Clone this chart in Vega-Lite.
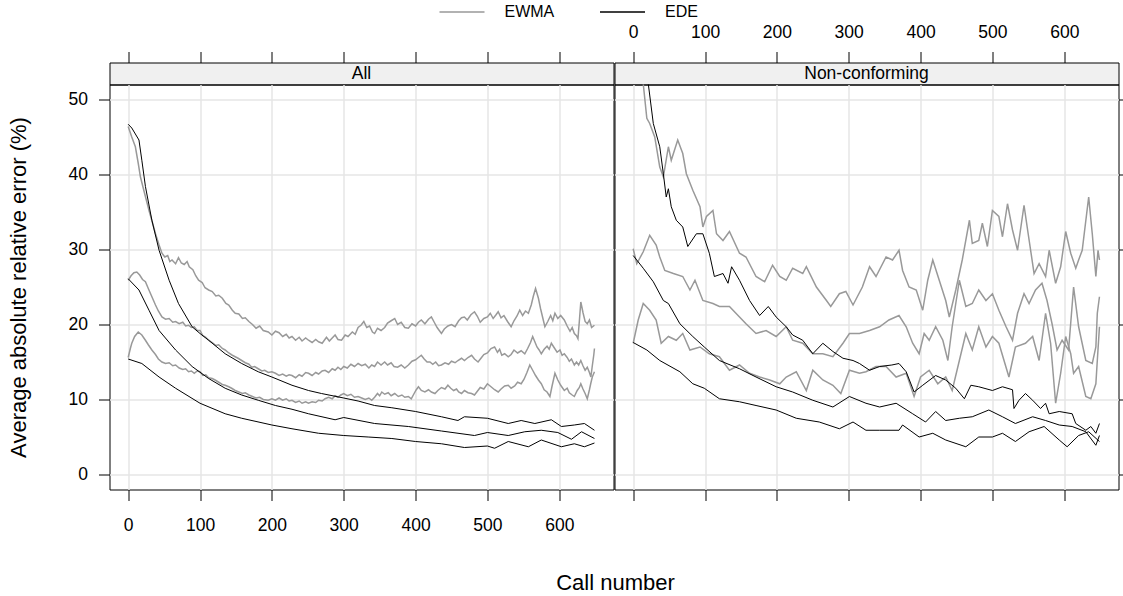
{
  "$schema": "https://vega.github.io/schema/vega-lite/v6.json",
  "padding": {"left": 6.5, "top": -12.5, "right": 0, "bottom": 0},
  "background": "white",
  "datasets": {
    "A_EWMA": [
      {"s":1,"x":0,"y":46.4},{"s":1,"x":5,"y":45.0},{"s":1,"x":10,"y":43.7},{"s":1,"x":14,"y":41.5},{"s":1,"x":17,"y":39.7},{"s":1,"x":22,"y":37.8},{"s":1,"x":29,"y":35.2},{"s":1,"x":34,"y":33.5},{"s":1,"x":38,"y":32.1},{"s":1,"x":43,"y":30.6},{"s":1,"x":47,"y":29.5},{"s":1,"x":51,"y":29.0},{"s":1,"x":55,"y":29.2},{"s":1,"x":58,"y":28.4},{"s":1,"x":61,"y":28.6},{"s":1,"x":66,"y":28.1},{"s":1,"x":70,"y":28.9},{"s":1,"x":74,"y":28.2},{"s":1,"x":78,"y":28.0},{"s":1,"x":82,"y":28.4},{"s":1,"x":85,"y":27.7},{"s":1,"x":90,"y":27.3},{"s":1,"x":94,"y":26.5},{"s":1,"x":98,"y":25.9},{"s":1,"x":103,"y":25.6},{"s":1,"x":107,"y":24.9},{"s":1,"x":112,"y":24.6},{"s":1,"x":117,"y":24.4},{"s":1,"x":122,"y":23.8},{"s":1,"x":126,"y":23.9},{"s":1,"x":131,"y":23.5},{"s":1,"x":136,"y":22.8},{"s":1,"x":140,"y":22.6},{"s":1,"x":145,"y":21.9},{"s":1,"x":149,"y":21.5},{"s":1,"x":154,"y":21.4},{"s":1,"x":159,"y":20.8},{"s":1,"x":163,"y":20.9},{"s":1,"x":168,"y":20.4},{"s":1,"x":173,"y":20.0},{"s":1,"x":178,"y":19.5},{"s":1,"x":183,"y":19.8},{"s":1,"x":188,"y":19.2},{"s":1,"x":195,"y":19.0},{"s":1,"x":200,"y":18.6},{"s":1,"x":205,"y":19.1},{"s":1,"x":210,"y":18.9},{"s":1,"x":215,"y":18.4},{"s":1,"x":220,"y":18.7},{"s":1,"x":224,"y":18.2},{"s":1,"x":228,"y":18.4},{"s":1,"x":233,"y":17.9},{"s":1,"x":238,"y":18.3},{"s":1,"x":242,"y":17.8},{"s":1,"x":247,"y":18.2},{"s":1,"x":251,"y":17.9},{"s":1,"x":256,"y":17.6},{"s":1,"x":261,"y":18.0},{"s":1,"x":265,"y":17.7},{"s":1,"x":270,"y":17.5},{"s":1,"x":276,"y":18.3},{"s":1,"x":280,"y":17.8},{"s":1,"x":284,"y":18.2},{"s":1,"x":288,"y":18.6},{"s":1,"x":292,"y":18.0},{"s":1,"x":297,"y":17.9},{"s":1,"x":302,"y":18.6},{"s":1,"x":306,"y":18.4},{"s":1,"x":312,"y":19.0},{"s":1,"x":316,"y":18.7},{"s":1,"x":320,"y":19.6},{"s":1,"x":324,"y":19.9},{"s":1,"x":328,"y":20.4},{"s":1,"x":332,"y":19.6},{"s":1,"x":336,"y":19.8},{"s":1,"x":340,"y":19.0},{"s":1,"x":343,"y":18.8},{"s":1,"x":347,"y":19.5},{"s":1,"x":352,"y":19.2},{"s":1,"x":357,"y":19.6},{"s":1,"x":361,"y":20.2},{"s":1,"x":366,"y":20.5},{"s":1,"x":371,"y":20.8},{"s":1,"x":375,"y":20.0},{"s":1,"x":380,"y":20.3},{"s":1,"x":385,"y":19.6},{"s":1,"x":390,"y":19.5},{"s":1,"x":395,"y":20.1},{"s":1,"x":400,"y":19.8},{"s":1,"x":404,"y":20.3},{"s":1,"x":408,"y":20.6},{"s":1,"x":413,"y":20.1},{"s":1,"x":418,"y":20.7},{"s":1,"x":422,"y":21.0},{"s":1,"x":426,"y":20.3},{"s":1,"x":430,"y":19.6},{"s":1,"x":433,"y":19.2},{"s":1,"x":436,"y":18.8},{"s":1,"x":440,"y":19.4},{"s":1,"x":445,"y":19.8},{"s":1,"x":450,"y":20.0},{"s":1,"x":455,"y":19.7},{"s":1,"x":460,"y":20.5},{"s":1,"x":464,"y":20.9},{"s":1,"x":468,"y":21.0},{"s":1,"x":472,"y":20.6},{"s":1,"x":477,"y":21.3},{"s":1,"x":482,"y":21.7},{"s":1,"x":486,"y":21.1},{"s":1,"x":490,"y":20.3},{"s":1,"x":495,"y":20.8},{"s":1,"x":500,"y":21.0},{"s":1,"x":504,"y":21.5},{"s":1,"x":508,"y":20.8},{"s":1,"x":512,"y":21.3},{"s":1,"x":515,"y":21.7},{"s":1,"x":519,"y":20.9},{"s":1,"x":523,"y":21.2},{"s":1,"x":528,"y":20.4},{"s":1,"x":533,"y":19.7},{"s":1,"x":537,"y":20.5},{"s":1,"x":541,"y":21.1},{"s":1,"x":545,"y":21.9},{"s":1,"x":549,"y":21.2},{"s":1,"x":553,"y":21.8},{"s":1,"x":557,"y":21.5},{"s":1,"x":561,"y":22.6},{"s":1,"x":564,"y":23.8},{"s":1,"x":567,"y":24.8},{"s":1,"x":571,"y":23.5},{"s":1,"x":574,"y":22.1},{"s":1,"x":577,"y":20.9},{"s":1,"x":580,"y":19.7},{"s":1,"x":584,"y":20.4},{"s":1,"x":588,"y":21.2},{"s":1,"x":591,"y":20.5},{"s":1,"x":594,"y":21.5},{"s":1,"x":598,"y":20.8},{"s":1,"x":602,"y":21.2},{"s":1,"x":607,"y":20.6},{"s":1,"x":611,"y":19.8},{"s":1,"x":615,"y":19.1},{"s":1,"x":618,"y":19.6},{"s":1,"x":621,"y":18.8},{"s":1,"x":624,"y":18.5},{"s":1,"x":626,"y":18.1},{"s":1,"x":628,"y":20.5},{"s":1,"x":630,"y":23.0},{"s":1,"x":633,"y":21.6},{"s":1,"x":636,"y":20.4},{"s":1,"x":639,"y":20.1},{"s":1,"x":642,"y":20.6},{"s":1,"x":645,"y":19.6},{"s":1,"x":649,"y":19.9},
      {"s":2,"x":0,"y":25.9},{"s":2,"x":4,"y":26.5},{"s":2,"x":8,"y":26.9},{"s":2,"x":12,"y":27.0},{"s":2,"x":16,"y":26.6},{"s":2,"x":20,"y":26.0},{"s":2,"x":24,"y":25.7},{"s":2,"x":28,"y":24.8},{"s":2,"x":33,"y":23.7},{"s":2,"x":38,"y":22.6},{"s":2,"x":42,"y":21.8},{"s":2,"x":47,"y":21.0},{"s":2,"x":52,"y":20.7},{"s":2,"x":57,"y":20.8},{"s":2,"x":62,"y":20.3},{"s":2,"x":66,"y":20.4},{"s":2,"x":71,"y":20.1},{"s":2,"x":76,"y":20.3},{"s":2,"x":80,"y":19.8},{"s":2,"x":84,"y":19.9},{"s":2,"x":88,"y":19.6},{"s":2,"x":92,"y":19.7},{"s":2,"x":96,"y":19.2},{"s":2,"x":100,"y":19.2},{"s":2,"x":104,"y":18.5},{"s":2,"x":108,"y":18.3},{"s":2,"x":112,"y":17.9},{"s":2,"x":117,"y":17.6},{"s":2,"x":122,"y":17.2},{"s":2,"x":126,"y":17.3},{"s":2,"x":131,"y":16.8},{"s":2,"x":135,"y":16.6},{"s":2,"x":140,"y":16.2},{"s":2,"x":145,"y":15.9},{"s":2,"x":149,"y":15.7},{"s":2,"x":153,"y":15.5},{"s":2,"x":158,"y":15.2},{"s":2,"x":163,"y":14.9},{"s":2,"x":168,"y":14.7},{"s":2,"x":172,"y":14.3},{"s":2,"x":176,"y":14.4},{"s":2,"x":181,"y":14.1},{"s":2,"x":186,"y":13.8},{"s":2,"x":190,"y":13.9},{"s":2,"x":195,"y":13.6},{"s":2,"x":200,"y":13.7},{"s":2,"x":205,"y":13.5},{"s":2,"x":210,"y":13.2},{"s":2,"x":215,"y":13.4},{"s":2,"x":220,"y":13.1},{"s":2,"x":224,"y":13.3},{"s":2,"x":228,"y":13.2},{"s":2,"x":233,"y":12.9},{"s":2,"x":238,"y":13.3},{"s":2,"x":242,"y":13.1},{"s":2,"x":247,"y":13.6},{"s":2,"x":251,"y":13.5},{"s":2,"x":256,"y":13.2},{"s":2,"x":261,"y":13.6},{"s":2,"x":265,"y":13.4},{"s":2,"x":270,"y":13.8},{"s":2,"x":274,"y":13.9},{"s":2,"x":279,"y":13.6},{"s":2,"x":284,"y":14.1},{"s":2,"x":288,"y":13.9},{"s":2,"x":292,"y":14.3},{"s":2,"x":296,"y":14.0},{"s":2,"x":300,"y":14.4},{"s":2,"x":305,"y":14.2},{"s":2,"x":310,"y":14.7},{"s":2,"x":315,"y":14.4},{"s":2,"x":320,"y":14.8},{"s":2,"x":325,"y":14.5},{"s":2,"x":330,"y":14.7},{"s":2,"x":335,"y":14.2},{"s":2,"x":339,"y":14.6},{"s":2,"x":343,"y":14.4},{"s":2,"x":347,"y":15.0},{"s":2,"x":352,"y":14.6},{"s":2,"x":357,"y":15.0},{"s":2,"x":361,"y":14.6},{"s":2,"x":366,"y":14.9},{"s":2,"x":370,"y":14.4},{"s":2,"x":375,"y":14.3},{"s":2,"x":380,"y":14.6},{"s":2,"x":385,"y":14.2},{"s":2,"x":390,"y":14.6},{"s":2,"x":395,"y":15.1},{"s":2,"x":400,"y":15.3},{"s":2,"x":404,"y":15.6},{"s":2,"x":408,"y":15.9},{"s":2,"x":412,"y":15.4},{"s":2,"x":416,"y":15.0},{"s":2,"x":420,"y":15.0},{"s":2,"x":424,"y":14.7},{"s":2,"x":428,"y":15.0},{"s":2,"x":432,"y":14.5},{"s":2,"x":436,"y":14.6},{"s":2,"x":441,"y":14.9},{"s":2,"x":446,"y":14.7},{"s":2,"x":450,"y":15.1},{"s":2,"x":455,"y":14.9},{"s":2,"x":459,"y":15.2},{"s":2,"x":464,"y":15.5},{"s":2,"x":468,"y":15.2},{"s":2,"x":473,"y":15.6},{"s":2,"x":478,"y":15.9},{"s":2,"x":482,"y":15.4},{"s":2,"x":487,"y":15.0},{"s":2,"x":491,"y":15.5},{"s":2,"x":495,"y":16.0},{"s":2,"x":500,"y":16.2},{"s":2,"x":505,"y":16.8},{"s":2,"x":510,"y":17.0},{"s":2,"x":514,"y":16.3},{"s":2,"x":517,"y":16.7},{"s":2,"x":520,"y":15.9},{"s":2,"x":524,"y":16.1},{"s":2,"x":529,"y":15.7},{"s":2,"x":533,"y":16.0},{"s":2,"x":537,"y":16.6},{"s":2,"x":542,"y":16.2},{"s":2,"x":547,"y":16.5},{"s":2,"x":552,"y":16.1},{"s":2,"x":556,"y":16.8},{"s":2,"x":560,"y":17.6},{"s":2,"x":563,"y":18.4},{"s":2,"x":566,"y":17.7},{"s":2,"x":569,"y":17.0},{"s":2,"x":572,"y":16.6},{"s":2,"x":575,"y":16.1},{"s":2,"x":579,"y":16.7},{"s":2,"x":583,"y":17.1},{"s":2,"x":586,"y":16.7},{"s":2,"x":589,"y":17.5},{"s":2,"x":593,"y":16.9},{"s":2,"x":597,"y":16.3},{"s":2,"x":601,"y":16.6},{"s":2,"x":604,"y":15.9},{"s":2,"x":607,"y":16.1},{"s":2,"x":611,"y":15.6},{"s":2,"x":614,"y":15.1},{"s":2,"x":617,"y":15.4},{"s":2,"x":621,"y":14.6},{"s":2,"x":624,"y":15.0},{"s":2,"x":627,"y":14.6},{"s":2,"x":630,"y":15.2},{"s":2,"x":633,"y":14.5},{"s":2,"x":636,"y":13.9},{"s":2,"x":639,"y":14.3},{"s":2,"x":642,"y":13.6},{"s":2,"x":644,"y":13.0},{"s":2,"x":646,"y":14.5},{"s":2,"x":648,"y":15.9},{"s":2,"x":649,"y":16.8},
      {"s":3,"x":0,"y":15.6},{"s":3,"x":3,"y":16.8},{"s":3,"x":5,"y":17.5},{"s":3,"x":9,"y":18.4},{"s":3,"x":14,"y":19.0},{"s":3,"x":19,"y":18.6},{"s":3,"x":24,"y":17.9},{"s":3,"x":28,"y":17.3},{"s":3,"x":33,"y":16.6},{"s":3,"x":38,"y":16.0},{"s":3,"x":42,"y":15.4},{"s":3,"x":47,"y":15.0},{"s":3,"x":52,"y":14.8},{"s":3,"x":57,"y":14.9},{"s":3,"x":62,"y":14.5},{"s":3,"x":66,"y":14.6},{"s":3,"x":71,"y":14.2},{"s":3,"x":76,"y":14.0},{"s":3,"x":80,"y":14.1},{"s":3,"x":84,"y":13.7},{"s":3,"x":88,"y":13.8},{"s":3,"x":92,"y":13.5},{"s":3,"x":96,"y":13.8},{"s":3,"x":100,"y":13.7},{"s":3,"x":104,"y":13.2},{"s":3,"x":108,"y":13.3},{"s":3,"x":112,"y":12.9},{"s":3,"x":117,"y":12.8},{"s":3,"x":121,"y":12.6},{"s":3,"x":126,"y":12.3},{"s":3,"x":131,"y":12.0},{"s":3,"x":135,"y":11.9},{"s":3,"x":140,"y":11.7},{"s":3,"x":144,"y":11.5},{"s":3,"x":149,"y":11.2},{"s":3,"x":154,"y":11.0},{"s":3,"x":159,"y":10.8},{"s":3,"x":163,"y":10.9},{"s":3,"x":168,"y":10.6},{"s":3,"x":173,"y":10.4},{"s":3,"x":178,"y":10.2},{"s":3,"x":183,"y":10.3},{"s":3,"x":188,"y":10.0},{"s":3,"x":195,"y":9.9},{"s":3,"x":200,"y":10.1},{"s":3,"x":205,"y":9.9},{"s":3,"x":210,"y":10.2},{"s":3,"x":215,"y":9.9},{"s":3,"x":220,"y":10.1},{"s":3,"x":224,"y":9.8},{"s":3,"x":228,"y":9.9},{"s":3,"x":233,"y":9.6},{"s":3,"x":238,"y":9.8},{"s":3,"x":242,"y":9.5},{"s":3,"x":247,"y":9.7},{"s":3,"x":251,"y":9.5},{"s":3,"x":256,"y":9.7},{"s":3,"x":261,"y":9.6},{"s":3,"x":265,"y":9.9},{"s":3,"x":270,"y":9.8},{"s":3,"x":274,"y":10.1},{"s":3,"x":279,"y":10.3},{"s":3,"x":284,"y":10.1},{"s":3,"x":288,"y":10.5},{"s":3,"x":292,"y":10.3},{"s":3,"x":296,"y":10.6},{"s":3,"x":300,"y":10.8},{"s":3,"x":305,"y":10.5},{"s":3,"x":310,"y":10.7},{"s":3,"x":315,"y":10.3},{"s":3,"x":320,"y":10.4},{"s":3,"x":325,"y":10.2},{"s":3,"x":330,"y":10.0},{"s":3,"x":335,"y":10.2},{"s":3,"x":339,"y":9.9},{"s":3,"x":343,"y":10.3},{"s":3,"x":347,"y":10.8},{"s":3,"x":350,"y":10.5},{"s":3,"x":353,"y":11.0},{"s":3,"x":357,"y":10.7},{"s":3,"x":362,"y":10.9},{"s":3,"x":366,"y":10.5},{"s":3,"x":371,"y":10.8},{"s":3,"x":376,"y":10.4},{"s":3,"x":381,"y":10.6},{"s":3,"x":385,"y":10.3},{"s":3,"x":390,"y":10.4},{"s":3,"x":394,"y":10.1},{"s":3,"x":398,"y":10.8},{"s":3,"x":401,"y":11.3},{"s":3,"x":404,"y":11.7},{"s":3,"x":408,"y":11.2},{"s":3,"x":413,"y":11.0},{"s":3,"x":418,"y":11.3},{"s":3,"x":422,"y":11.0},{"s":3,"x":427,"y":10.8},{"s":3,"x":431,"y":11.2},{"s":3,"x":436,"y":11.6},{"s":3,"x":441,"y":11.4},{"s":3,"x":445,"y":11.9},{"s":3,"x":449,"y":11.5},{"s":3,"x":453,"y":11.2},{"s":3,"x":457,"y":11.4},{"s":3,"x":460,"y":11.0},{"s":3,"x":464,"y":10.8},{"s":3,"x":468,"y":11.2},{"s":3,"x":473,"y":10.9},{"s":3,"x":478,"y":10.8},{"s":3,"x":482,"y":10.6},{"s":3,"x":486,"y":11.1},{"s":3,"x":490,"y":11.6},{"s":3,"x":495,"y":11.4},{"s":3,"x":500,"y":12.1},{"s":3,"x":505,"y":11.7},{"s":3,"x":510,"y":11.3},{"s":3,"x":515,"y":11.0},{"s":3,"x":519,"y":11.4},{"s":3,"x":524,"y":11.8},{"s":3,"x":529,"y":11.9},{"s":3,"x":533,"y":11.5},{"s":3,"x":538,"y":11.8},{"s":3,"x":542,"y":12.3},{"s":3,"x":547,"y":12.1},{"s":3,"x":551,"y":12.7},{"s":3,"x":555,"y":13.6},{"s":3,"x":559,"y":14.6},{"s":3,"x":563,"y":13.9},{"s":3,"x":567,"y":13.2},{"s":3,"x":571,"y":12.6},{"s":3,"x":575,"y":12.1},{"s":3,"x":579,"y":11.3},{"s":3,"x":583,"y":11.0},{"s":3,"x":587,"y":10.4},{"s":3,"x":590,"y":11.8},{"s":3,"x":594,"y":13.5},{"s":3,"x":598,"y":12.6},{"s":3,"x":602,"y":11.9},{"s":3,"x":607,"y":11.2},{"s":3,"x":611,"y":11.5},{"s":3,"x":614,"y":10.9},{"s":3,"x":618,"y":10.6},{"s":3,"x":621,"y":10.4},{"s":3,"x":625,"y":11.2},{"s":3,"x":628,"y":11.6},{"s":3,"x":630,"y":12.1},{"s":3,"x":633,"y":11.4},{"s":3,"x":636,"y":10.8},{"s":3,"x":639,"y":10.1},{"s":3,"x":642,"y":11.3},{"s":3,"x":644,"y":12.2},{"s":3,"x":646,"y":13.0},{"s":3,"x":649,"y":13.7}
    ],
    "A_EDE": [
      {"s":1,"x":0,"y":46.7},{"s":1,"x":5,"y":46.2},{"s":1,"x":15,"y":44.6},{"s":1,"x":19,"y":41.9},{"s":1,"x":24,"y":38.4},{"s":1,"x":33,"y":33.9},{"s":1,"x":43,"y":29.9},{"s":1,"x":57,"y":25.9},{"s":1,"x":70,"y":22.8},{"s":1,"x":89,"y":19.7},{"s":1,"x":100,"y":18.8},{"s":1,"x":112,"y":17.9},{"s":1,"x":135,"y":16.1},{"s":1,"x":158,"y":14.8},{"s":1,"x":181,"y":13.7},{"s":1,"x":200,"y":13.0},{"s":1,"x":228,"y":11.9},{"s":1,"x":251,"y":11.2},{"s":1,"x":269,"y":10.8},{"s":1,"x":300,"y":10.2},{"s":1,"x":320,"y":9.8},{"s":1,"x":343,"y":9.2},{"s":1,"x":367,"y":8.9},{"s":1,"x":400,"y":8.4},{"s":1,"x":436,"y":7.7},{"s":1,"x":459,"y":7.2},{"s":1,"x":468,"y":7.7},{"s":1,"x":500,"y":7.5},{"s":1,"x":529,"y":6.8},{"s":1,"x":547,"y":7.2},{"s":1,"x":566,"y":6.8},{"s":1,"x":589,"y":7.3},{"s":1,"x":603,"y":6.4},{"s":1,"x":621,"y":6.6},{"s":1,"x":635,"y":6.8},{"s":1,"x":649,"y":5.9},
      {"s":2,"x":0,"y":26.1},{"s":2,"x":15,"y":24.6},{"s":2,"x":29,"y":21.9},{"s":2,"x":43,"y":19.2},{"s":2,"x":66,"y":16.6},{"s":2,"x":89,"y":14.4},{"s":2,"x":112,"y":12.8},{"s":2,"x":135,"y":11.5},{"s":2,"x":158,"y":10.6},{"s":2,"x":181,"y":9.9},{"s":2,"x":205,"y":9.2},{"s":2,"x":228,"y":8.7},{"s":2,"x":251,"y":8.1},{"s":2,"x":288,"y":7.3},{"s":2,"x":300,"y":7.6},{"s":2,"x":343,"y":6.8},{"s":2,"x":390,"y":6.4},{"s":2,"x":436,"y":5.8},{"s":2,"x":482,"y":5.2},{"s":2,"x":500,"y":5.6},{"s":2,"x":529,"y":5.2},{"s":2,"x":552,"y":5.7},{"s":2,"x":575,"y":5.9},{"s":2,"x":598,"y":5.6},{"s":2,"x":617,"y":4.7},{"s":2,"x":631,"y":5.7},{"s":2,"x":649,"y":4.8},
      {"s":3,"x":0,"y":15.4},{"s":3,"x":19,"y":14.8},{"s":3,"x":43,"y":13.0},{"s":3,"x":66,"y":11.5},{"s":3,"x":100,"y":9.5},{"s":3,"x":135,"y":8.1},{"s":3,"x":158,"y":7.5},{"s":3,"x":200,"y":6.6},{"s":3,"x":228,"y":6.1},{"s":3,"x":265,"y":5.5},{"s":3,"x":300,"y":5.2},{"s":3,"x":334,"y":5.0},{"s":3,"x":367,"y":4.8},{"s":3,"x":400,"y":4.4},{"s":3,"x":436,"y":4.1},{"s":3,"x":468,"y":3.6},{"s":3,"x":500,"y":3.8},{"s":3,"x":510,"y":3.5},{"s":3,"x":529,"y":4.4},{"s":3,"x":557,"y":3.7},{"s":3,"x":575,"y":4.6},{"s":3,"x":603,"y":3.7},{"s":3,"x":621,"y":4.1},{"s":3,"x":635,"y":3.7},{"s":3,"x":649,"y":4.2}
    ],
    "N_EWMA": [
      {"s":1,"x":0,"y":62},{"s":1,"x":8,"y":56},{"s":1,"x":14,"y":52.1},{"s":1,"x":19,"y":47.5},{"s":1,"x":23,"y":46.8},{"s":1,"x":30,"y":45.0},{"s":1,"x":37,"y":41.0},{"s":1,"x":42,"y":39.7},{"s":1,"x":49,"y":43.7},{"s":1,"x":53,"y":41.9},{"s":1,"x":62,"y":44.6},{"s":1,"x":69,"y":42.8},{"s":1,"x":74,"y":40.1},{"s":1,"x":83,"y":37.9},{"s":1,"x":93,"y":35.7},{"s":1,"x":97,"y":33.0},{"s":1,"x":102,"y":34.4},{"s":1,"x":111,"y":35.2},{"s":1,"x":116,"y":32.1},{"s":1,"x":125,"y":31.2},{"s":1,"x":134,"y":32.4},{"s":1,"x":148,"y":29.5},{"s":1,"x":157,"y":29.0},{"s":1,"x":171,"y":26.4},{"s":1,"x":183,"y":25.7},{"s":1,"x":194,"y":27.9},{"s":1,"x":204,"y":26.4},{"s":1,"x":213,"y":25.9},{"s":1,"x":222,"y":27.5},{"s":1,"x":236,"y":26.8},{"s":1,"x":241,"y":27.7},{"s":1,"x":255,"y":25.0},{"s":1,"x":269,"y":23.2},{"s":1,"x":275,"y":22.4},{"s":1,"x":287,"y":24.1},{"s":1,"x":296,"y":24.4},{"s":1,"x":306,"y":22.6},{"s":1,"x":319,"y":25.0},{"s":1,"x":329,"y":27.7},{"s":1,"x":338,"y":26.4},{"s":1,"x":352,"y":29.0},{"s":1,"x":361,"y":28.6},{"s":1,"x":370,"y":29.9},{"s":1,"x":375,"y":27.2},{"s":1,"x":384,"y":25.0},{"s":1,"x":394,"y":24.6},{"s":1,"x":403,"y":21.9},{"s":1,"x":410,"y":25.9},{"s":1,"x":417,"y":28.6},{"s":1,"x":426,"y":25.9},{"s":1,"x":435,"y":23.2},{"s":1,"x":440,"y":21.0},{"s":1,"x":449,"y":24.6},{"s":1,"x":458,"y":28.6},{"s":1,"x":468,"y":33.9},{"s":1,"x":472,"y":30.8},{"s":1,"x":481,"y":31.2},{"s":1,"x":486,"y":33.5},{"s":1,"x":493,"y":30.4},{"s":1,"x":500,"y":35.2},{"s":1,"x":509,"y":34.4},{"s":1,"x":514,"y":31.7},{"s":1,"x":521,"y":36.1},{"s":1,"x":528,"y":32.6},{"s":1,"x":535,"y":29.9},{"s":1,"x":544,"y":35.9},{"s":1,"x":549,"y":32.6},{"s":1,"x":558,"y":26.8},{"s":1,"x":565,"y":28.1},{"s":1,"x":574,"y":26.4},{"s":1,"x":579,"y":29.9},{"s":1,"x":588,"y":25.5},{"s":1,"x":595,"y":27.7},{"s":1,"x":602,"y":32.4},{"s":1,"x":609,"y":29.5},{"s":1,"x":616,"y":27.5},{"s":1,"x":620,"y":28.6},{"s":1,"x":625,"y":29.9},{"s":1,"x":634,"y":37.0},{"s":1,"x":639,"y":32.1},{"s":1,"x":644,"y":26.4},{"s":1,"x":647,"y":29.9},{"s":1,"x":649,"y":28.6},
      {"s":2,"x":0,"y":30.1},{"s":2,"x":5,"y":28.1},{"s":2,"x":14,"y":29.7},{"s":2,"x":23,"y":31.9},{"s":2,"x":32,"y":30.6},{"s":2,"x":37,"y":29.0},{"s":2,"x":44,"y":27.2},{"s":2,"x":56,"y":26.8},{"s":2,"x":69,"y":26.4},{"s":2,"x":79,"y":24.6},{"s":2,"x":86,"y":25.9},{"s":2,"x":97,"y":23.2},{"s":2,"x":111,"y":22.8},{"s":2,"x":120,"y":22.4},{"s":2,"x":134,"y":22.4},{"s":2,"x":148,"y":21.0},{"s":2,"x":157,"y":20.1},{"s":2,"x":171,"y":18.8},{"s":2,"x":185,"y":19.2},{"s":2,"x":199,"y":18.4},{"s":2,"x":213,"y":19.7},{"s":2,"x":222,"y":17.9},{"s":2,"x":236,"y":17.5},{"s":2,"x":250,"y":16.1},{"s":2,"x":264,"y":16.1},{"s":2,"x":278,"y":15.7},{"s":2,"x":292,"y":17.5},{"s":2,"x":301,"y":18.8},{"s":2,"x":315,"y":18.8},{"s":2,"x":329,"y":19.2},{"s":2,"x":343,"y":19.7},{"s":2,"x":356,"y":20.6},{"s":2,"x":370,"y":21.2},{"s":2,"x":380,"y":19.7},{"s":2,"x":389,"y":17.5},{"s":2,"x":398,"y":16.1},{"s":2,"x":405,"y":18.8},{"s":2,"x":412,"y":17.9},{"s":2,"x":421,"y":19.7},{"s":2,"x":431,"y":17.9},{"s":2,"x":438,"y":15.2},{"s":2,"x":444,"y":19.7},{"s":2,"x":454,"y":25.9},{"s":2,"x":463,"y":22.4},{"s":2,"x":472,"y":22.8},{"s":2,"x":481,"y":24.6},{"s":2,"x":491,"y":23.2},{"s":2,"x":500,"y":24.1},{"s":2,"x":509,"y":21.9},{"s":2,"x":519,"y":19.7},{"s":2,"x":528,"y":17.9},{"s":2,"x":535,"y":21.5},{"s":2,"x":544,"y":24.1},{"s":2,"x":551,"y":22.8},{"s":2,"x":560,"y":24.6},{"s":2,"x":569,"y":25.5},{"s":2,"x":576,"y":23.2},{"s":2,"x":583,"y":20.1},{"s":2,"x":590,"y":16.6},{"s":2,"x":597,"y":17.9},{"s":2,"x":606,"y":16.6},{"s":2,"x":613,"y":25.0},{"s":2,"x":620,"y":19.7},{"s":2,"x":630,"y":15.2},{"s":2,"x":639,"y":14.8},{"s":2,"x":644,"y":17.0},{"s":2,"x":646,"y":21.5},{"s":2,"x":649,"y":23.7},
      {"s":3,"x":0,"y":17.5},{"s":3,"x":7,"y":20.6},{"s":3,"x":14,"y":22.8},{"s":3,"x":23,"y":21.9},{"s":3,"x":32,"y":20.6},{"s":3,"x":39,"y":17.5},{"s":3,"x":49,"y":18.4},{"s":3,"x":60,"y":17.9},{"s":3,"x":69,"y":18.8},{"s":3,"x":79,"y":16.6},{"s":3,"x":93,"y":17.0},{"s":3,"x":106,"y":16.1},{"s":3,"x":120,"y":15.7},{"s":3,"x":134,"y":13.9},{"s":3,"x":148,"y":14.6},{"s":3,"x":162,"y":13.5},{"s":3,"x":176,"y":13.0},{"s":3,"x":190,"y":12.6},{"s":3,"x":204,"y":12.1},{"s":3,"x":213,"y":13.0},{"s":3,"x":227,"y":13.7},{"s":3,"x":241,"y":11.2},{"s":3,"x":250,"y":13.9},{"s":3,"x":264,"y":12.6},{"s":3,"x":278,"y":11.9},{"s":3,"x":289,"y":10.8},{"s":3,"x":301,"y":13.9},{"s":3,"x":315,"y":13.5},{"s":3,"x":324,"y":13.7},{"s":3,"x":338,"y":14.4},{"s":3,"x":352,"y":14.4},{"s":3,"x":366,"y":13.0},{"s":3,"x":380,"y":13.5},{"s":3,"x":391,"y":10.4},{"s":3,"x":400,"y":13.0},{"s":3,"x":412,"y":13.9},{"s":3,"x":424,"y":12.1},{"s":3,"x":435,"y":13.0},{"s":3,"x":444,"y":11.2},{"s":3,"x":454,"y":15.2},{"s":3,"x":463,"y":18.8},{"s":3,"x":472,"y":16.6},{"s":3,"x":481,"y":19.7},{"s":3,"x":491,"y":17.0},{"s":3,"x":500,"y":18.4},{"s":3,"x":509,"y":17.5},{"s":3,"x":523,"y":13.0},{"s":3,"x":532,"y":17.0},{"s":3,"x":546,"y":17.5},{"s":3,"x":556,"y":18.4},{"s":3,"x":565,"y":15.2},{"s":3,"x":574,"y":21.5},{"s":3,"x":581,"y":17.5},{"s":3,"x":588,"y":9.5},{"s":3,"x":595,"y":13.5},{"s":3,"x":602,"y":18.4},{"s":3,"x":609,"y":16.1},{"s":3,"x":613,"y":13.5},{"s":3,"x":620,"y":14.4},{"s":3,"x":630,"y":10.4},{"s":3,"x":637,"y":10.1},{"s":3,"x":644,"y":12.1},{"s":3,"x":646,"y":15.2},{"s":3,"x":649,"y":19.7}
    ],
    "N_EDE": [
      {"s":1,"x":0,"y":66},{"s":1,"x":10,"y":59},{"s":1,"x":21,"y":52.1},{"s":1,"x":28,"y":46.8},{"s":1,"x":37,"y":43.7},{"s":1,"x":42,"y":40.1},{"s":1,"x":46,"y":37.0},{"s":1,"x":49,"y":38.1},{"s":1,"x":53,"y":35.7},{"s":1,"x":60,"y":33.9},{"s":1,"x":69,"y":33.0},{"s":1,"x":76,"y":30.4},{"s":1,"x":88,"y":32.1},{"s":1,"x":97,"y":32.1},{"s":1,"x":106,"y":29.5},{"s":1,"x":113,"y":26.4},{"s":1,"x":125,"y":26.8},{"s":1,"x":132,"y":25.5},{"s":1,"x":137,"y":27.7},{"s":1,"x":148,"y":25.9},{"s":1,"x":162,"y":23.2},{"s":1,"x":176,"y":21.2},{"s":1,"x":188,"y":22.4},{"s":1,"x":199,"y":21.0},{"s":1,"x":213,"y":19.7},{"s":1,"x":222,"y":18.6},{"s":1,"x":236,"y":17.9},{"s":1,"x":250,"y":16.1},{"s":1,"x":264,"y":17.5},{"s":1,"x":278,"y":16.4},{"s":1,"x":292,"y":15.5},{"s":1,"x":306,"y":15.2},{"s":1,"x":315,"y":14.8},{"s":1,"x":329,"y":13.9},{"s":1,"x":343,"y":14.4},{"s":1,"x":360,"y":14.6},{"s":1,"x":370,"y":14.8},{"s":1,"x":380,"y":13.7},{"s":1,"x":391,"y":11.0},{"s":1,"x":403,"y":11.9},{"s":1,"x":421,"y":13.2},{"s":1,"x":435,"y":12.6},{"s":1,"x":449,"y":11.5},{"s":1,"x":461,"y":10.1},{"s":1,"x":470,"y":11.9},{"s":1,"x":481,"y":11.7},{"s":1,"x":500,"y":11.2},{"s":1,"x":514,"y":11.7},{"s":1,"x":528,"y":11.3},{"s":1,"x":530,"y":8.8},{"s":1,"x":537,"y":9.9},{"s":1,"x":546,"y":10.8},{"s":1,"x":556,"y":9.9},{"s":1,"x":567,"y":8.8},{"s":1,"x":574,"y":9.5},{"s":1,"x":579,"y":8.1},{"s":1,"x":593,"y":8.4},{"s":1,"x":611,"y":8.1},{"s":1,"x":616,"y":6.8},{"s":1,"x":630,"y":5.9},{"s":1,"x":637,"y":6.4},{"s":1,"x":644,"y":5.5},{"s":1,"x":649,"y":6.8},
      {"s":2,"x":0,"y":29.2},{"s":2,"x":14,"y":27.5},{"s":2,"x":28,"y":25.7},{"s":2,"x":42,"y":23.2},{"s":2,"x":49,"y":22.8},{"s":2,"x":65,"y":20.1},{"s":2,"x":83,"y":18.4},{"s":2,"x":99,"y":17.0},{"s":2,"x":120,"y":15.2},{"s":2,"x":148,"y":14.1},{"s":2,"x":171,"y":13.0},{"s":2,"x":199,"y":11.7},{"s":2,"x":222,"y":11.0},{"s":2,"x":250,"y":9.9},{"s":2,"x":278,"y":9.0},{"s":2,"x":301,"y":10.4},{"s":2,"x":324,"y":9.5},{"s":2,"x":343,"y":9.0},{"s":2,"x":366,"y":9.5},{"s":2,"x":389,"y":8.1},{"s":2,"x":407,"y":7.0},{"s":2,"x":421,"y":8.4},{"s":2,"x":435,"y":7.2},{"s":2,"x":454,"y":7.5},{"s":2,"x":472,"y":7.7},{"s":2,"x":495,"y":8.6},{"s":2,"x":514,"y":7.7},{"s":2,"x":532,"y":6.8},{"s":2,"x":556,"y":7.7},{"s":2,"x":574,"y":7.2},{"s":2,"x":593,"y":6.6},{"s":2,"x":611,"y":6.4},{"s":2,"x":630,"y":5.7},{"s":2,"x":644,"y":3.9},{"s":2,"x":649,"y":5.2},
      {"s":3,"x":0,"y":17.6},{"s":3,"x":19,"y":16.6},{"s":3,"x":37,"y":15.2},{"s":3,"x":65,"y":13.7},{"s":3,"x":83,"y":12.1},{"s":3,"x":99,"y":11.5},{"s":3,"x":120,"y":10.1},{"s":3,"x":148,"y":9.7},{"s":3,"x":171,"y":9.2},{"s":3,"x":199,"y":8.6},{"s":3,"x":227,"y":7.5},{"s":3,"x":259,"y":7.0},{"s":3,"x":287,"y":6.1},{"s":3,"x":306,"y":7.0},{"s":3,"x":324,"y":5.9},{"s":3,"x":343,"y":5.9},{"s":3,"x":370,"y":5.9},{"s":3,"x":375,"y":6.6},{"s":3,"x":398,"y":5.0},{"s":3,"x":417,"y":5.5},{"s":3,"x":435,"y":4.6},{"s":3,"x":463,"y":3.7},{"s":3,"x":481,"y":5.0},{"s":3,"x":500,"y":5.0},{"s":3,"x":514,"y":5.5},{"s":3,"x":532,"y":4.4},{"s":3,"x":551,"y":5.7},{"s":3,"x":572,"y":6.4},{"s":3,"x":593,"y":4.6},{"s":3,"x":604,"y":3.7},{"s":3,"x":620,"y":5.2},{"s":3,"x":634,"y":5.7},{"s":3,"x":649,"y":4.4}
    ]
  },
  "title": {"text": "Call number", "orient": "bottom", "anchor": "middle", "frame": "bounds", "fontSize": 22, "fontWeight": "normal", "font": "Liberation Sans", "color": "black", "offset": 38, "dx": 47},
  "spacing": -2.5,
  "hconcat": [
    {
      "bounds": "flush",
      "spacing": 0,
      "vconcat": [
        {
          "width": 504, "height": 22,
          "view": {"fill": "#f0f0f0", "stroke": "black", "strokeWidth": 1},
          "data": {"values": [{"t": "All"}]},
          "mark": {"type": "text", "fontSize": 17.5, "font": "Liberation Sans", "color": "black"},
          "encoding": {"text": {"field": "t", "type": "nominal"}}
        },
        {
          "width": 504, "height": 405,
          "resolve": {"axis": {"x": "independent"}},
          "layer": [
            {
              "data": {"name": "A_EWMA"},
              "mark": {"type": "line", "strokeWidth": 1.5, "clip": true},
              "encoding": {
                "x": {"field": "x", "type": "quantitative", "scale": {"domain": [-26, 675.5], "nice": false, "zero": false},
                      "axis": {"orient": "bottom", "values": [0,100,200,300,400,500,600], "grid": true, "title": null, "labelPadding": 16}},
                "y": {"field": "y", "type": "quantitative", "scale": {"domain": [-2, 52], "nice": false, "zero": false},
                      "axis": {"orient": "left", "values": [0,10,20,30,40,50], "grid": true, "title": "Average absolute relative error (%)", "labelPadding": 11, "titlePadding": 38}},
                "color": {"datum": "EWMA", "type": "nominal", "scale": {"domain": ["EWMA", "EDE"], "range": ["#999999", "#000000"]},
                          "legend": {"orient": "none", "direction": "horizontal", "legendX": 329, "legendY": -74.2, "title": null, "symbolType": "stroke", "symbolSize": 2025, "symbolStrokeWidth": 1.5, "labelFontSize": 16, "labelOffset": 19, "columnPadding": 42.5, "padding": 0, "labelColor": "black", "labelFont": "Liberation Sans"}},
                "detail": {"field": "s", "type": "nominal"}
              }
            },
            {
              "data": {"name": "A_EDE"},
              "mark": {"type": "line", "strokeWidth": 1, "clip": true},
              "encoding": {
                "x": {"field": "x", "type": "quantitative", "scale": {"domain": [-26, 675.5], "nice": false, "zero": false},
                      "axis": {"orient": "top", "values": [0,100,200,300,400,500,600], "grid": false, "labels": false, "title": null, "offset": 22}},
                "y": {"field": "y", "type": "quantitative",
                      "axis": {"orient": "left", "values": [0,10,20,30,40,50], "grid": true, "title": "Average absolute relative error (%)", "labelPadding": 11, "titlePadding": 38}},
                "color": {"datum": "EDE", "type": "nominal"},
                "detail": {"field": "s", "type": "nominal"}
              }
            }
          ]
        }
      ]
    },
    {
      "bounds": "flush",
      "spacing": 0,
      "vconcat": [
        {
          "width": 504, "height": 22,
          "view": {"fill": "#f0f0f0", "stroke": "black", "strokeWidth": 1},
          "data": {"values": [{"t": "Non-conforming"}]},
          "mark": {"type": "text", "fontSize": 17.5, "font": "Liberation Sans", "color": "black"},
          "encoding": {"text": {"field": "t", "type": "nominal"}}
        },
        {
          "width": 504, "height": 405,
          "resolve": {"axis": {"x": "independent"}},
          "layer": [
            {
              "data": {"name": "N_EWMA"},
              "mark": {"type": "line", "strokeWidth": 1.5, "clip": true},
              "encoding": {
                "x": {"field": "x", "type": "quantitative", "scale": {"domain": [-26, 675.5], "nice": false, "zero": false},
                      "axis": {"orient": "bottom", "values": [0,100,200,300,400,500,600], "grid": true, "labels": false, "title": null}},
                "y": {"field": "y", "type": "quantitative", "scale": {"domain": [-2, 52], "nice": false, "zero": false},
                      "axis": {"orient": "right", "values": [0,10,20,30,40,50], "grid": true, "labels": false, "title": null}},
                "color": {"datum": "EWMA", "type": "nominal"},
                "detail": {"field": "s", "type": "nominal"}
              }
            },
            {
              "data": {"name": "N_EDE"},
              "mark": {"type": "line", "strokeWidth": 1, "clip": true},
              "encoding": {
                "x": {"field": "x", "type": "quantitative", "scale": {"domain": [-26, 675.5], "nice": false, "zero": false},
                      "axis": {"orient": "top", "values": [0,100,200,300,400,500,600], "grid": false, "labels": true, "title": null, "offset": 22, "labelPadding": 9.7}},
                "y": {"field": "y", "type": "quantitative",
                      "axis": {"orient": "right", "values": [0,10,20,30,40,50], "grid": true, "labels": false, "title": null}},
                "color": {"datum": "EDE", "type": "nominal"},
                "detail": {"field": "s", "type": "nominal"}
              }
            }
          ]
        }
      ]
    }
  ],
  "config": {
    "font": "Liberation Sans",
    "view": {"stroke": "black", "strokeWidth": 1},
    "axis": {
      "domain": false, "tickColor": "black", "tickSize": 11, "tickWidth": 1,
      "labelFontSize": 17.5, "labelColor": "black", "labelFont": "Liberation Sans",
      "gridColor": "#e6e6e6", "gridWidth": 1.5,
      "titleFontSize": 22, "titleFontWeight": "normal", "titleColor": "black", "titleFont": "Liberation Sans",
      "labelOverlap": false, "labelFlush": false
    },
    "legend": {"symbolType": "stroke"}
  }
}
